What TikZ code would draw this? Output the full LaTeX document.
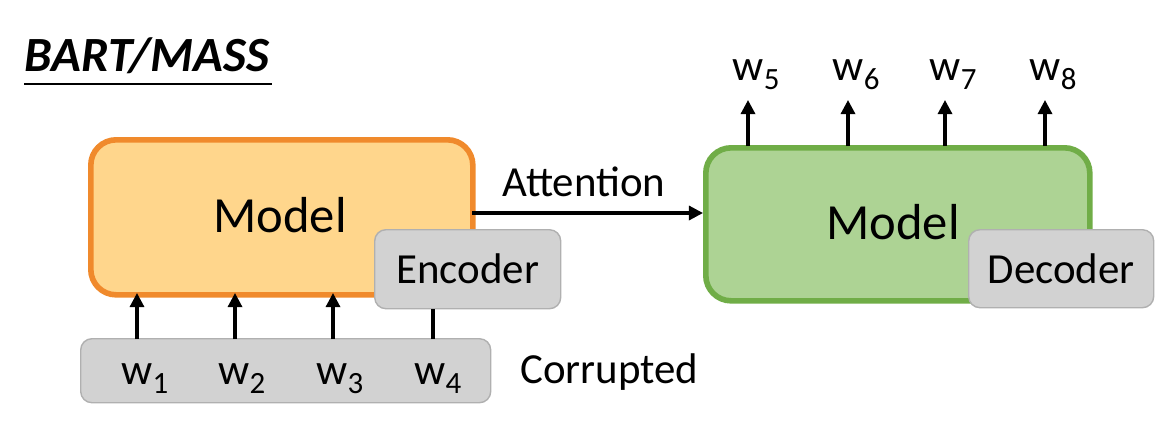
\documentclass[tikz,border=0pt]{standalone}
\usepackage{fontspec}
\setmainfont{Carlito}
\usetikzlibrary{arrows.meta}
\definecolor{orfill}{HTML}{FFD68C}
\definecolor{ordraw}{HTML}{F08A2C}
\definecolor{grfill}{HTML}{ADD394}
\definecolor{grdraw}{HTML}{70AD47}
\definecolor{gyfill}{HTML}{D2D2D2}
\definecolor{gydraw}{HTML}{B0B0B0}
\newcommand{\wsub}[1]{w\raisebox{-0.45ex}{\fontsize{22}{24}\selectfont #1}}
\tikzset{
  modelbox/.style={rounded corners=18pt, line width=4pt},
  greybox/.style={draw=gydraw, fill=gyfill, line width=1pt, rounded corners=8pt},
  arr/.style={line width=2.2pt, -{Triangle[length=10pt,width=10pt]}},
  plain/.style={line width=2.2pt},
  lbl/.style={font=\fontsize{30.5}{34}\selectfont, inner sep=0pt},
  wlbl/.style={font=\fontsize{31}{34}\selectfont, inner sep=0pt, anchor=base},
}
\begin{document}
\begin{tikzpicture}[x=0.025cm,y=-0.025cm]
\useasboundingbox (0,0) rectangle (1170,437);
% title
\node[inner sep=0pt, anchor=base west, font=\fontsize{35}{38}\selectfont\bfseries\itshape] (title) at (24,71) {BART/MASS};
\draw[line width=1.8pt] (24,84) -- (272,84);
% left model
\node[modelbox, draw=ordraw, fill=orfill, minimum width=382*0.025cm, minimum height=155*0.025cm, anchor=north west] (enc) at (88,137) {};
\node[font=\fontsize{36}{40}\selectfont, inner sep=0pt] (encm) at (280,215) {Model};
\node[greybox, minimum width=186*0.025cm, minimum height=79*0.025cm, anchor=north west, lbl] (encl) at (374,229) {};
\node[lbl] at (encl.center) {Encoder};
% corrupted
\node[greybox, minimum width=410*0.025cm, minimum height=64*0.025cm, anchor=north west] (cor) at (80,338) {};
\node[wlbl] (w1) at (145,384) {\wsub{1}};
\node[wlbl] (w2) at (242,384) {\wsub{2}};
\node[wlbl] (w3) at (340,384) {\wsub{3}};
\node[wlbl] (w4) at (438,384) {\wsub{4}};
\node[lbl, anchor=west] (corl) at (520,372) {Corrupted};
\coordinate (a1) at (137,339); \coordinate (b1) at (137,293);
\coordinate (a2) at (235,339); \coordinate (b2) at (235,293);
\coordinate (a3) at (333,339); \coordinate (b3) at (333,293);
\coordinate (a4) at (433,339); \coordinate (b4) at (433,309);
\draw[arr] (a1) -- (b1);
\draw[arr] (a2) -- (b2);
\draw[arr] (a3) -- (b3);
\draw[plain] (a4) -- (b4);
% right model
\node[modelbox, draw=grdraw, fill=grfill, minimum width=384*0.025cm, minimum height=153*0.025cm, anchor=north west] (dec) at (703,145) {};
\node[font=\fontsize{36}{40}\selectfont, inner sep=0pt] (decm) at (893,222) {Model};
\node[greybox, minimum width=185*0.025cm, minimum height=78*0.025cm, anchor=north west] (decl) at (968,229) {};
\node[lbl] at (decl.center) {Decoder};
% attention
\coordinate (att1) at (472,213);
\draw[arr] (att1) -- (dec.west |- att1);
\node[lbl] (attl) at (584,182) {Attention};
% outputs
\foreach \x/\i in {748/5,848/6,945/7,1045/8}{
  \coordinate (o\i) at (\x,146);
  \coordinate (t\i) at (\x,100);
  \draw[arr] (o\i) -- (t\i);
  \node[wlbl] (w\i) at (\x+8,80) {\wsub{\i}};
}
\end{tikzpicture}
\end{document}
